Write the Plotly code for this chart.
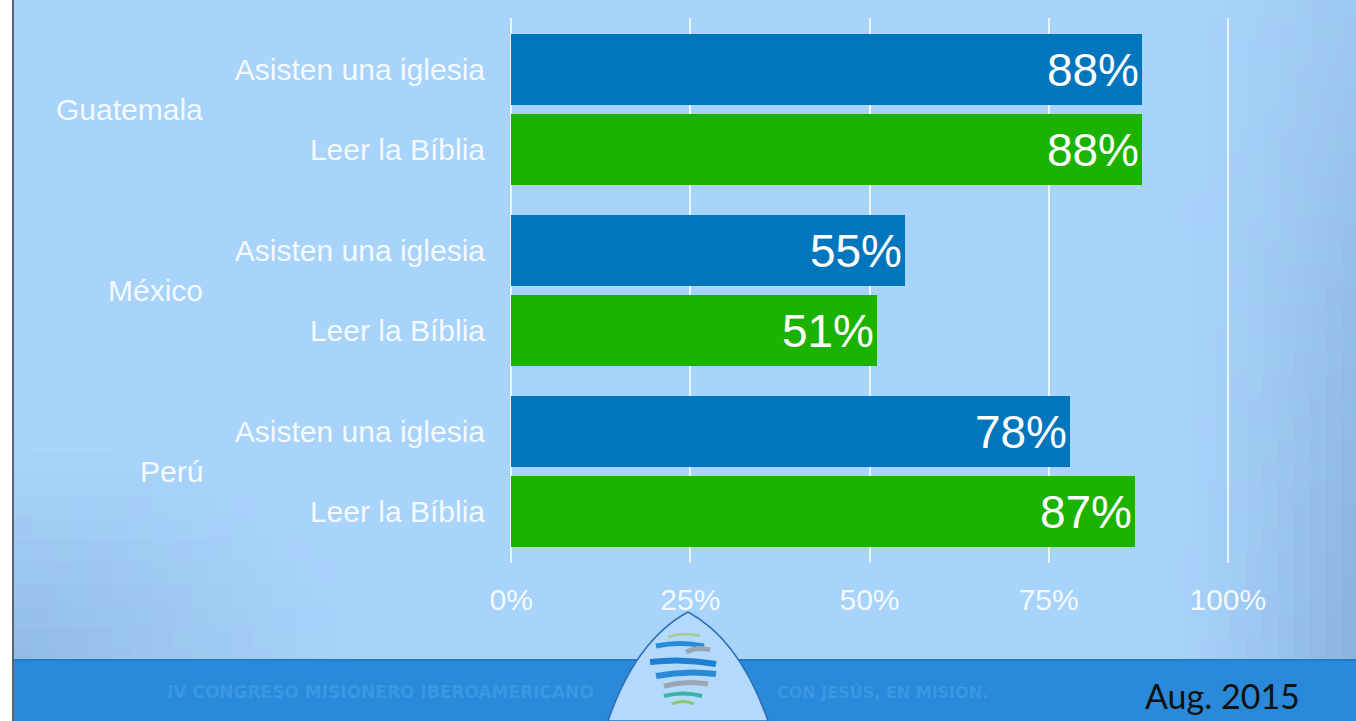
import math

import plotly.graph_objects as go

# Data
countries = ["Guatemala", "México", "Perú"]
measures = ["Asisten una iglesia", "Leer la Bíblia"]
asisten = [88, 55, 78]
leer = [88, 51, 87]
x_ticks = [0, 25, 50, 75, 100]

BLUE = "#0176bc"
GREEN = "#1cb200"
BG = (168, 211, 251)
DARK = (111, 152, 196)
LABEL = "rgba(255,255,255,0.9)"
FONT = "Liberation Sans, Arial, sans-serif"

# Row positions: two bars per country, a bit more space between countries
GROUP_STEP = 2.25
pos_asisten = [i * GROUP_STEP for i in range(len(countries))]
pos_leer = [p + 1 for p in pos_asisten]

fig = go.Figure()

for vals, pos, name, color in [
    (asisten, pos_asisten, measures[0], BLUE),
    (leer, pos_leer, measures[1], GREEN),
]:
    fig.add_trace(
        go.Bar(
            x=vals,
            y=pos,
            orientation="h",
            name=name,
            marker=dict(color=color, line=dict(width=0)),
            width=0.885,
            text=[f"{v}%" for v in vals],
            textposition="inside",
            insidetextanchor="end",
            textfont=dict(family=FONT, size=46, color="white"),
            hoverinfo="skip",
        )
    )

tickvals = []
ticktext = []
for a, l in zip(pos_asisten, pos_leer):
    tickvals += [a, l]
    ticktext += measures

# plot area in page pixels (a hair wider than 0..100 so the edge gridlines show)
L, R, T, B = 509, 1230, 18, 563


def fx(xp):
    return (xp - L) / (R - L)


def fy(yp):
    return (B - yp) / (B - T)


def px(xp, yp):
    return f"{fx(xp):.4f},{fy(yp):.4f}"


# Country names on the left
annotations = []
for c, a, l in zip(countries, pos_asisten, pos_leer):
    annotations.append(
        dict(
            x=fx(205), xref="paper", y=(a + l) / 2, yref="y",
            text=c, showarrow=False, xanchor="right", yanchor="middle",
            font=dict(family=FONT, size=30, color=LABEL),
        )
    )

# Footer band text
annotations += [
    dict(
        x=fx(165), y=fy(692), xref="paper", yref="paper",
        text="<b>IV CONGRESO MISIONERO IBEROAMERICANO</b>", showarrow=False,
        xanchor="left", yanchor="middle",
        font=dict(family="DejaVu Sans, sans-serif", size=17, color="#3a97e4"),
    ),
    dict(
        x=fx(775), y=fy(692), xref="paper", yref="paper",
        text="<b>CON JESÚS, EN MISIÓN.</b>", showarrow=False,
        xanchor="left", yanchor="middle",
        font=dict(family="DejaVu Sans, sans-serif", size=16, color="#3a97e4"),
    ),
    dict(
        x=fx(1302), y=fy(695), xref="paper", yref="paper",
        text="Aug. 2015", showarrow=False, xanchor="right", yanchor="middle",
        font=dict(family="Lato, sans-serif", size=34, color="#111111"),
    ),
]


def px_rect(x0, y0, x1, y1, color, opacity=1.0, layer="below"):
    # rectangles in page pixels, converted to paper coordinates
    return dict(
        type="rect", xref="paper", yref="paper",
        x0=fx(x0), x1=fx(x1), y0=fy(y1), y1=fy(y0),
        fillcolor=color, opacity=opacity, line=dict(width=0), layer=layer,
    )


def shade_amount(x, y):
    # darker towards the right edge (more at the bottom) and the lower-left corner
    right = max(0.0, (x - 1150) / 206) ** 1.5 * (0.35 + 0.65 * y / 660) * 0.55
    d = math.hypot((x - 12) / 380, (660 - y) / 230)
    left = max(0.0, 1 - d) ** 1.2 * 0.4
    return max(right, left)


def mix(a):
    r, g, b = (round(c0 + a * (c1 - c0)) for c0, c1 in zip(BG, DARK))
    return f"rgb({r},{g},{b})"


shapes = []
# background shading, drawn as small opaque cells
for x0, x1, cw in [(1150, 1356, 16), (12, 392, 20)]:
    y_top = 0 if x0 > 1000 else 430
    ch = 22
    x = x0
    while x < x1:
        y = y_top
        while y < 660:
            a = shade_amount(x + cw / 2, y + ch / 2)
            if a > 0.01:
                shapes.append(px_rect(x, y, min(x + cw + 0.6, 1356), min(y + ch + 0.6, 660), mix(a)))
            y += ch
        x += cw
# footer band
shapes.append(px_rect(12, 660, 1356, 721, "#2a89d8"))
shapes.append(px_rect(12, 659, 1356, 661, "#2479c8"))
# white margin and dark edge at the left
shapes.append(px_rect(0, 0, 12, 721, "white"))
shapes.append(px_rect(12, 0, 14, 721, "#5a6470"))
# logo arch
arch = (
    f"M {px(608, 721)} Q {px(636, 640)} {px(688, 612)} "
    f"Q {px(740, 640)} {px(768, 721)} Z"
)
shapes.append(dict(type="path", xref="paper", yref="paper", path=arch,
                   fillcolor="#b3dafc", line=dict(color="#2e6fb6", width=1.5), layer="below"))
# stylised fish stripes inside the logo
stripes = [
    (668, 637, 700, 636, "#a9c98e", 2.5),
    (656, 646, 704, 646, "#2a8ad8", 5),
    (686, 652, 710, 650, "#9aa7b2", 5),
    (650, 662, 716, 664, "#1f7fd0", 6),
    (656, 676, 716, 674, "#2a8ad8", 6),
    (664, 686, 708, 684, "#9aa7b2", 5),
    (664, 696, 702, 696, "#3bb3a8", 4),
    (672, 704, 694, 704, "#8cc66a", 3),
]
for x0, y0, x1, y1, col, w in stripes:
    mid = ((x0 + x1) / 2, (y0 + y1) / 2 - 5)
    shapes.append(dict(
        type="path", xref="paper", yref="paper",
        path=f"M {px(x0, y0)} Q {px(*mid)} {px(x1, y1)}",
        line=dict(color=col, width=w), layer="below",
    ))

fig.update_layout(
    width=1356,
    height=721,
    margin=dict(l=L, r=1356 - R, t=T, b=721 - B),
    paper_bgcolor="rgb(168,211,251)",
    plot_bgcolor="rgba(0,0,0,0)",
    showlegend=False,
    bargap=0,
    font=dict(family=FONT, size=30, color=LABEL),
    xaxis=dict(
        range=[-0.3, 100.3],
        tickvals=x_ticks,
        ticktext=[f"{v}%" for v in x_ticks],
        showgrid=True,
        gridcolor="rgba(255,255,255,0.75)",
        gridwidth=2,
        zeroline=False,
        showline=False,
        ticks="",
        ticklabelstandoff=16,
        tickfont=dict(family=FONT, size=30, color=LABEL),
        fixedrange=True,
    ),
    yaxis=dict(
        range=[pos_leer[-1] + 0.64, -0.64],
        tickvals=tickvals,
        ticktext=ticktext,
        showgrid=False,
        zeroline=False,
        showline=False,
        ticks="",
        ticklabelstandoff=23,
        tickfont=dict(family=FONT, size=30, color=LABEL),
        fixedrange=True,
    ),
    annotations=annotations,
    shapes=shapes,
)

# page body has a default 8px margin; drop it so the figure fills the window
fig.write_html(
    "out.html",
    config={"displayModeBar": False},
    post_script="document.body.style.margin='0';document.body.style.overflow='hidden';",
)
